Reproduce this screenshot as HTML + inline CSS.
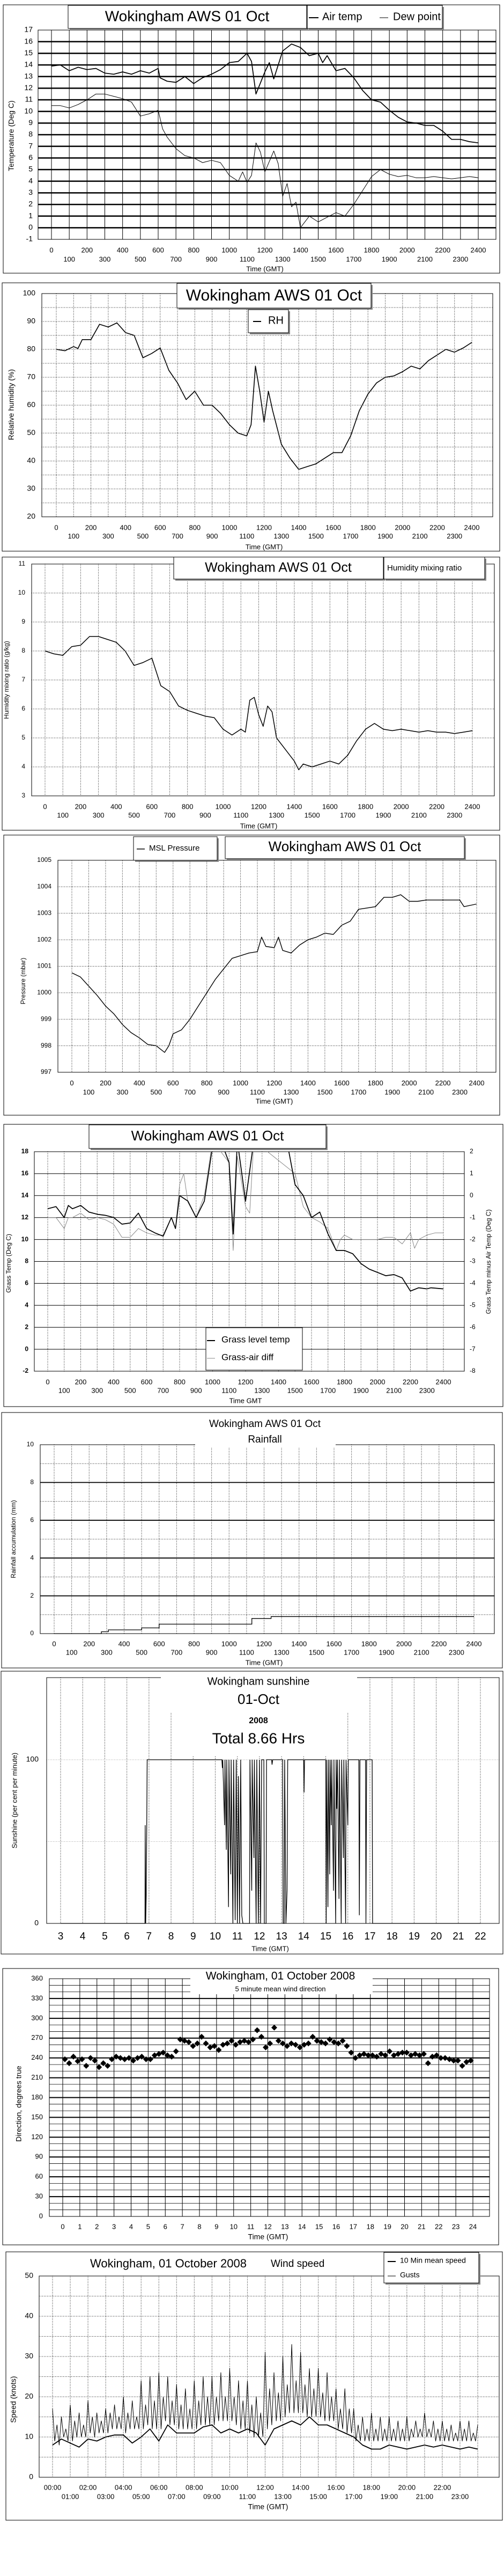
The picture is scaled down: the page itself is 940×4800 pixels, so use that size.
<!DOCTYPE html>
<html><head><meta charset="utf-8"><title>Wokingham AWS 01 Oct</title>
<style>
html,body{margin:0;padding:0;background:#fff;}
svg{display:block;}
text{font-family:"Liberation Sans",sans-serif;fill:#000;}
.n{font-family:"Liberation Sans Narrow","Liberation Sans",sans-serif;}
</style></head>
<body>
<svg id="chart" width="940" height="4800" viewBox="0 0 940 4800" xmlns="http://www.w3.org/2000/svg"></svg>
<script>
// ---------- DATA ----------
const hhmmLabelsEven=[0,200,400,600,800,1000,1200,1400,1600,1800,2000,2200,2400];
const hhmmLabelsOdd=[100,300,500,700,900,1100,1300,1500,1700,1900,2100,2300];

const airT=[0,0.5,1,1.5,2,2.5,3,3.5,4,4.5,5,5.5,6,6.1,6.5,7,7.5,8,8.5,9,9.5,10,10.5,11,11.25,11.5,12,12.25,12.5,13,13.5,14,14.5,15,15.25,15.5,16,16.5,17,17.5,18,18.5,19,19.5,20,20.5,21,21.5,22,22.5,23,23.5,24];
const airV=[13.9,14.0,13.5,13.8,13.6,13.7,13.3,13.2,13.4,13.2,13.5,13.3,13.7,12.9,12.6,12.5,13.0,12.4,12.9,13.2,13.6,14.2,14.3,15.0,14.3,11.5,13.4,14.2,12.8,15.2,15.8,15.5,14.8,15.0,14.2,14.8,13.5,13.7,12.9,11.8,11.0,10.8,10.1,9.5,9.1,9.0,8.8,8.8,8.3,7.6,7.6,7.4,7.3];
const dewT=[0,0.5,1,1.5,2,2.5,3,3.5,4,4.5,5,5.5,6,6.25,6.5,7,7.5,8,8.5,9,9.5,10,10.5,10.75,11,11.25,11.5,11.75,12,12.5,12.75,13,13.25,13.5,13.75,14,14.5,15,15.5,16,16.5,17,17.5,18,18.5,19,19.5,20,20.5,21,21.5,22,22.5,23,23.5,24];
const dewV=[10.5,10.5,10.3,10.6,11.0,11.5,11.5,11.3,11.1,10.8,9.6,9.8,10.1,8.5,7.8,6.8,6.2,6.0,5.6,5.8,5.6,4.5,4.0,4.8,3.9,4.5,7.3,6.5,4.8,6.6,5.5,2.7,3.8,1.8,2.2,0.0,1.0,0.5,0.9,1.3,1.0,2.0,3.2,4.4,5.0,4.6,4.4,4.5,4.3,4.3,4.4,4.3,4.2,4.3,4.4,4.3];
const tempTicks=[-1,0,1,2,3,4,5,6,7,8,9,10,11,12,13,14,15,16,17];

const rhT=[0,0.5,1,1.25,1.5,2,2.5,3,3.5,4,4.5,5,5.5,6,6.5,7,7.5,8,8.5,9,9.5,10,10.5,11,11.25,11.5,11.75,12,12.25,12.5,13,13.5,14,14.5,15,15.5,16,16.5,17,17.5,18,18.5,19,19.5,20,20.5,21,21.5,22,22.5,23,23.5,24];
const rhV=[80,79.5,81,80.3,83.5,83.5,89,88,89.5,86,85,77,78.5,80.5,72.5,68,62,65,60,60,57,53,50,49,53,74,65,54,65,58,46,41,37,38,39,41,43,43,49,58,64,68,70,70.5,72,74,73,76,78,80,79,80.5,82.5];
const rhTicks=[20,30,40,50,60,70,80,90,100];

const mixT=[0,0.5,1,1.5,2,2.5,3,3.5,4,4.5,5,5.5,6,6.5,7,7.5,8,8.5,9,9.5,10,10.5,11,11.25,11.5,11.75,12,12.25,12.5,12.75,13,13.5,14,14.25,14.5,15,15.5,16,16.5,17,17.5,18,18.5,19,19.5,20,20.5,21,21.5,22,22.5,23,23.5,24];
const mixV=[8.0,7.9,7.85,8.15,8.2,8.5,8.5,8.4,8.3,8.0,7.5,7.6,7.75,6.8,6.6,6.1,5.95,5.85,5.75,5.7,5.3,5.1,5.3,5.2,6.3,6.4,5.8,5.4,6.1,5.9,5.0,4.6,4.2,3.9,4.1,4.0,4.1,4.2,4.1,4.4,4.9,5.3,5.5,5.3,5.25,5.3,5.25,5.2,5.25,5.2,5.2,5.15,5.2,5.25];
const mixTicks=[3,4,5,6,7,8,9,10,11];

const presT=[0,0.5,1,1.5,2,2.5,3,3.5,4,4.5,5,5.5,5.75,6,6.5,7,7.5,8,8.5,9,9.5,10,10.5,11,11.25,11.5,12,12.25,12.5,13,13.5,14,14.5,15,15.5,16,16.5,17,17.5,18,18.5,19,19.5,20,20.5,21,21.5,22,22.5,23,23.25,24];
const presV=[1000.75,1000.6,1000.25,999.9,999.5,999.2,998.8,998.5,998.3,998.05,998.0,997.75,998.0,998.45,998.6,999.0,999.5,1000.0,1000.5,1000.9,1001.3,1001.4,1001.5,1001.55,1002.1,1001.75,1001.7,1002.1,1001.6,1001.5,1001.8,1002.0,1002.1,1002.25,1002.2,1002.55,1002.7,1003.15,1003.2,1003.25,1003.6,1003.6,1003.7,1003.45,1003.45,1003.5,1003.5,1003.5,1003.5,1003.5,1003.25,1003.35];
const presTicks=[997,998,999,1000,1001,1002,1003,1004,1005];

const grassT=[0,0.5,1,1.25,1.5,2,2.5,3,3.5,4,4.5,5,5.5,6,6.5,7,7.5,7.75,8,8.5,9,9.5,10,10.5,11,11.25,11.5,12,12.5,13,13.5,14,14.5,15,15.5,16,16.5,17,17.5,18,18.5,19,19.5,20,20.5,21,21.5,22,22.5,23,23.25,24];
const grassV=[12.8,13.0,12.0,13.1,12.8,13.1,12.5,12.3,12.2,12.0,11.4,11.5,12.4,11.0,10.6,10.3,12.0,11.0,14.0,13.5,12.0,13.5,18.5,19,17,10.5,19,13.5,19,19,19,19,19,15,14.0,12.0,12.5,10.5,9.0,9.0,8.7,7.8,7.3,7.0,6.7,6.8,6.5,5.3,5.6,5.5,5.6,5.5];
const diffT=[0,0.5,1,1.25,1.5,2,2.5,3,3.5,4,4.5,5,5.5,6,6.5,7,7.5,7.75,8,8.25,8.5,9,9.5,10,11,11.25,11.5,12,12.25,12.5,15,15.5,16,16.5,17,17.5,17.75,18,18.5,19,19.5,20,20.5,21,21.5,22,22.25,22.5,23,23.5,24];
const diffV=[-1.0,-1.0,-1.5,-1.0,-1.0,-0.8,-1.1,-1.0,-1.1,-1.3,-1.9,-1.9,-1.5,-1.7,-1.8,-1.8,-1.0,-1.5,0.5,1.0,-0.3,-1.0,0.0,2.5,1.5,-2.5,1.8,-0.5,-0.8,2.5,1.0,-0.5,-1.0,-1.2,-1.5,-2.5,-2.0,-1.8,-2.0,-2.0,-2.0,-2.0,-1.9,-1.9,-2.2,-1.7,-2.4,-2.0,-1.8,-1.7,-1.7];
const grassTicks=[-2,0,2,4,6,8,10,12,14,16,18];
const diffTicks=[-8,-7,-6,-5,-4,-3,-2,-1,0,1,2];

const rainT=[0,2.7,3.1,5.0,6.0,11.3,12.4,24];
const rainV=[0,0.1,0.2,0.3,0.5,0.8,0.9,0.9];
const rainTicks=[0,2,4,6,8,10];

const sunT=[3,6.82,6.83,6.85,6.88,6.92,10.3,10.32,10.34,10.42,10.44,10.5,10.52,10.6,10.62,10.7,10.72,10.8,10.83,10.9,10.95,11.0,11.05,11.1,11.15,11.2,11.25,11.55,11.57,11.65,11.67,11.75,11.77,11.85,11.88,11.95,12.0,12.05,12.1,12.2,12.22,12.3,12.32,12.55,12.57,12.6,13.05,13.07,13.12,13.14,13.2,13.25,13.28,14.0,14.02,14.04,15.0,15.02,15.05,15.1,15.13,15.18,15.2,15.25,15.27,15.35,15.37,15.45,15.47,15.5,15.53,15.6,15.62,15.7,15.72,15.8,15.82,15.9,15.92,16.0,16.02,16.5,16.52,16.55,16.8,16.82,16.85,17.1,17.12,22];
const sunV=[0,0,60,0,20,100,100,95,100,60,100,45,100,10,100,30,100,0,100,2,100,0,90,0,100,5,0,0,100,20,100,40,100,0,100,0,100,0,100,100,0,0,100,100,97,100,100,0,0,100,0,20,100,100,80,100,100,0,100,10,100,30,100,60,100,20,100,0,100,70,100,15,100,0,100,40,100,0,100,60,100,100,5,100,100,0,100,100,0,0];
const sunHours=[3,4,5,6,7,8,9,10,11,12,13,14,15,16,17,18,19,20,21,22];

const dirV=[238,232,242,235, 238,228,240,236, 226,232,228,238, 242,240,238,240, 236,240,242,238, 238,244,246,248, 244,242,250,268, 266,264,258,262, 272,262,256,258, 252,260,262,266, 260,264,266,264, 268,282,272,256, 262,286,266,262, 258,262,260,256, 260,262,272,266, 264,262,268,264, 262,266,258,248, 240,244,246,244, 244,242,246,244, 250,244,246,248, 248,244,246,244, 246,232,242,244, 240,240,238,236, 236,228,234,236];
const dirTicks=[0,30,60,90,120,150,180,210,240,270,300,330,360];

const meanV=[8,9.5,8.5,7.5,9.5,9,10,10.5,10.5,8.5,10,12,9,13,11,11,11,12.5,13,11,12,11,12,11,8,12,13,14,13,15,13,13,12,11,10,8,7,7,8,7.5,7,7.5,8,7.5,8,7.5,7,7.5,7];
const gustV=[
17,9,13,8,15,10,12,9,
18,9,14,10,16,10,13,10,
19,11,15,10,16,11,14,11,
17,11,16,12,18,12,15,12,
20,11,16,12,19,12,15,12,
24,12,18,13,25,12,19,12,
26,12,20,14,25,13,19,13,
23,12,18,12,22,12,17,12,
24,12,19,13,25,13,20,13,
25,13,20,14,26,14,20,14,
27,14,20,13,24,12,19,12,
24,11,18,10,20,10,16,10,
31,12,22,13,26,14,21,14,
30,15,23,16,33,16,24,16,
31,16,23,15,27,15,22,15,
27,15,21,14,26,14,20,14,
22,12,17,12,22,11,17,11,
17,9,13,9,15,9,12,9,
16,9,12,9,15,9,12,9,
15,9,12,9,14,9,12,9,
15,9,12,10,14,10,12,10,
16,10,12,10,14,9,12,9,
14,9,12,9,13,9,11,9,
14,9,12,9,14,9,11,9,13];
const speedTicks=[0,10,20,30,40,50];
const clockEven=["00:00","02:00","04:00","06:00","08:00","10:00","12:00","14:00","16:00","18:00","20:00","22:00"];
const clockOdd=["01:00","03:00","05:00","07:00","09:00","11:00","13:00","15:00","17:00","19:00","21:00","23:00"];

// ---------- HELPERS ----------
const NS='http://www.w3.org/2000/svg';
const svg=document.getElementById('chart');
function mk(tag,attrs,parent){const e=document.createElementNS(NS,tag);for(const k in attrs)e.setAttribute(k,attrs[k]);(parent||svg).appendChild(e);return e;}
function sc(a,v){return a.p0+(v-a.v0)/(a.v1-a.v0)*(a.p1-a.p0);}
function grp(name){const g=mk('g',{});


return g;}
function rect(g,x,y,w,h,name,st){const e=mk('rect',Object.assign({x:x,y:y,width:w,height:h,fill:'none',stroke:'#000','stroke-width':1},st||{}),g);


return e;}
function line(g,x1,y1,x2,y2,name,st){const e=mk('line',Object.assign({x1:x1,y1:y1,x2:x2,y2:y2,stroke:'#000','stroke-width':1},st||{}),g);


return e;}
function txt(g,x,y,s,size,anchor,name,extra){const e=mk('text',Object.assign({x:x,y:y,'font-size':size,'text-anchor':anchor||'start','dominant-baseline':'middle'},extra||{}),g);e.textContent=s;


return e;}
function boxShadow(g,x,y,w,h,name){rect(g,x+3,y+3,w,h,name+'-shadow',{fill:'#888',stroke:'none'});return rect(g,x,y,w,h,name,{fill:'#fff'});}
function series(g,X,Y,ts,vs,name,st,clip){const n=Math.min(ts.length,vs.length);let d='';for(let i=0;i<n;i++){d+=(i?'L':'M')+sc(X,ts[i]).toFixed(1)+','+sc(Y,vs[i]).toFixed(1);}
const e=mk('path',Object.assign({d:d,fill:'none',stroke:'#000','stroke-width':1,'stroke-linejoin':'round'},st||{}),g);
if(clip)e.setAttribute('clip-path','url(#'+clip+')');


return e;}
const defs=mk('defs',{});
function clipRect(id,x,y,w,h){const c=mk('clipPath',{id:id},defs);mk('rect',{x:x,y:y,width:w,height:h},c);}
function hhmmAxis(g,X,y1,y2,ttlY,ttl,cls){
  hhmmLabelsEven.forEach(v=>{txt(g,sc(X,v/100),y1,String(v),13,'middle','x-tick-label',cls?{class:cls}:{});});
  hhmmLabelsOdd.forEach(v=>{txt(g,sc(X,v/100),y2,String(v),13,'middle','x-tick-label',cls?{class:cls}:{});});
  txt(g,sc(X,12),ttlY,ttl,13,'middle','x-axis-title',cls?{class:cls}:{});
}
function vgrid(g,X,top,bot,from,to,step,name,st){for(let v=from;v<=to+1e-9;v+=step){const x=sc(X,v);line(g,x,top,x,bot,name,st);}}
function hgrid(g,Y,left,right,vals,name,st){vals.forEach(v=>{const y=sc(Y,v);line(g,left,y,right,y,name,st);});}
const DOT={'stroke-dasharray':'1,2','stroke-width':1};

// ---------- PANEL 1: temperature ----------
(function(){
const g=grp('temperature-panel');
rect(g,6,9,926,500,'panel-frame');
const X={p0:96,p1:892,v0:0,v1:24},Y={p0:446,p1:56,v0:-1,v1:17};
rect(g,71,56,854,390,'plot-area');
vgrid(g,X,56,446,0,24,1,'x-gridline');
hgrid(g,Y,71,925,[0,1,2,3,4,5,6,7,8,9,10,11,12,13,14,15,16],'y-gridline',{'stroke-width':2.5});
tempTicks.forEach(v=>txt(g,61,sc(Y,v),String(v),14,'end','y-tick-label',{class:'n'}));
txt(g,22,253,'Temperature (Deg C)',14,'middle','y-axis-title',{transform:'rotate(-90 22 253)'});
hhmmAxis(g,X,467,484,502,'Time (GMT)','n');
series(g,X,Y,dewT,dewV,'dew-point-line',{'stroke-width':1});
series(g,X,Y,airT,airV,'air-temp-line',{'stroke-width':1.7});
boxShadow(g,127,10,445,43,'title-box');
txt(g,349,32,'Wokingham AWS 01 Oct',28,'middle','chart-title',{class:'n'});
boxShadow(g,573,10,252,43,'legend');
line(g,576,33,594,33,'legend-air-temp-swatch',{'stroke-width':2});
txt(g,601,32,'Air temp',20,'start','legend-air-temp',{class:'n'});
line(g,708,33,724,33,'legend-dew-point-swatch');
txt(g,733,32,'Dew point',20,'start','legend-dew-point',{class:'n'});
})();

// ---------- PANEL 2: RH ----------
(function(){
const g=grp('humidity-panel');
rect(g,4,527,928,500,'panel-frame');
const X={p0:105,p1:880,v0:0,v1:24},Y={p0:963,p1:547,v0:20,v1:100};
vgrid(g,X,547,963,0,24,1,'x-gridline',DOT);
hgrid(g,Y,78,919,[25,30,35,40,45,50,55,60,65,70,75,80,85,90,95],'y-gridline',DOT);
rect(g,78,547,841,416,'plot-area');
rhTicks.forEach(v=>txt(g,66,sc(Y,v),String(v),14,'end','y-tick-label',{class:'n'}));
txt(g,22,754,'Relative humidity (%)',14,'middle','y-axis-title',{transform:'rotate(-90 22 754)'});
hhmmAxis(g,X,984,1000,1020,'Time (GMT)','n');
series(g,X,Y,rhT,rhV,'rh-line',{'stroke-width':1.6});
boxShadow(g,330,528,362,46,'title-box');
txt(g,511,552,'Wokingham AWS 01 Oct',30,'middle','chart-title',{class:'n'});
boxShadow(g,463,577,75,43,'legend');
line(g,472,599,487,599,'legend-rh-swatch',{'stroke-width':2});
txt(g,500,598,'RH',20,'start','legend-rh',{class:'n'});
})();

// ---------- PANEL 3: mixing ratio ----------
(function(){
const g=grp('mixing-ratio-panel');
rect(g,4,1038,928,509,'panel-frame');
const X={p0:84,p1:881,v0:0,v1:24},Y={p0:1483,p1:1051,v0:3,v1:11};
vgrid(g,X,1051,1483,0,24,1,'x-gridline',DOT);
hgrid(g,Y,59,922,[4,5,6,7,8,9,10],'y-gridline',DOT);
rect(g,59,1051,863,432,'plot-area');
mixTicks.forEach(v=>txt(g,47,sc(Y,v),String(v),12,'end','y-tick-label'));
txt(g,13,1267,'Humidity mixing ratio (g/kg)',12,'middle','y-axis-title',{transform:'rotate(-90 13 1267)'});
hhmmAxis(g,X,1504,1520,1540,'Time (GMT)');
series(g,X,Y,mixT,mixV,'mixing-ratio-line',{'stroke-width':1.5});
boxShadow(g,324,1038,391,41,'title-box');
txt(g,519,1059,'Wokingham AWS 01 Oct',25,'middle','chart-title');
boxShadow(g,716,1038,188,41,'legend');
txt(g,722,1059,'Humidity mixing ratio',15,'start','legend-mixing-ratio');
})();

// ---------- PANEL 4: pressure ----------
(function(){
const g=grp('pressure-panel');
rect(g,7,1556,925,522,'panel-frame');
const X={p0:134,p1:889,v0:0,v1:24},Y={p0:1998,p1:1603,v0:997,v1:1005};
vgrid(g,X,1603,1998,0,24,1,'x-gridline',DOT);
hgrid(g,Y,108,925,[998,999,1000,1001,1002,1003,1004],'y-gridline',DOT);
rect(g,108,1603,817,395,'plot-area');
presTicks.forEach(v=>txt(g,96,sc(Y,v),String(v),12,'end','y-tick-label'));
txt(g,44,1828,'Pressure (mbar)',12,'middle','y-axis-title',{transform:'rotate(-90 44 1828)'});
hhmmAxis(g,X,2019,2036,2053,'Time (GMT)');
series(g,X,Y,presT,presV,'pressure-line',{'stroke-width':1.4});
boxShadow(g,249,1559,156,44,'legend');
line(g,255,1582,270,1582,'legend-pressure-swatch',{'stroke-width':1.5});
txt(g,278,1581,'MSL Pressure',15,'start','legend-pressure');
boxShadow(g,420,1559,446,41,'title-box');
txt(g,643,1579,'Wokingham AWS 01 Oct',26,'middle','chart-title');
})();

// ---------- PANEL 5: grass temp ----------
(function(){
const g=grp('grass-temp-panel');
rect(g,7,2095,931,526,'panel-frame');
const X={p0:89,p1:827,v0:0,v1:24},Y={p0:2555,p1:2146,v0:-2,v1:18},Y2={p0:2555,p1:2146,v0:-8,v1:2};
clipRect('clip5',64,2146,802,409);
vgrid(g,X,2146,2555,0,24,1,'x-gridline',DOT);
hgrid(g,Y,64,866,[0,2,4,6,8,10,12,14,16],'y-gridline');
rect(g,64,2146,802,409,'plot-area');
grassTicks.forEach(v=>txt(g,53,sc(Y,v),String(v),12,'end','y-tick-label',{'font-weight':'bold'}));
diffTicks.forEach(v=>txt(g,876,sc(Y2,v),String(v),12,'start','y2-tick-label'));
txt(g,17,2354,'Grass Temp (Deg C)',12,'middle','y-axis-title',{transform:'rotate(-90 17 2354)'});
txt(g,912,2351,'Grass Temp minus Air Temp (Deg C)',12,'middle','y2-axis-title',{transform:'rotate(-90 912 2351)'});
hhmmAxis(g,X,2576,2592,2611,'Time GMT');
series(g,X,Y2,diffT,diffV,'grass-air-diff-line',{stroke:'#888','stroke-width':1},'clip5');
series(g,X,Y,grassT,grassV,'grass-temp-line',{'stroke-width':1.7},'clip5');
boxShadow(g,166,2096,442,44,'title-box');
txt(g,387,2118,'Wokingham AWS 01 Oct',26,'middle','chart-title');
rect(g,384,2474,180,79,'legend',{fill:'#fff'});
line(g,386,2498,401,2498,'legend-grass-swatch',{'stroke-width':2});
txt(g,413,2497,'Grass level temp',17,'start','legend-grass-temp');
line(g,386,2531,401,2531,'legend-diff-swatch',{stroke:'#888'});
txt(g,413,2530,'Grass-air diff',17,'start','legend-grass-air-diff');
})();

// ---------- PANEL 6: rainfall ----------
(function(){
const g=grp('rainfall-panel');
rect(g,3,2632,934,476,'panel-frame');
const X={p0:101,p1:884,v0:0,v1:24},Y={p0:3044,p1:2692,v0:0,v1:10};
vgrid(g,X,2692,3044,0,24,1,'x-gridline',DOT);
hgrid(g,Y,75,922,[1,3,5,7,9],'minor-y-gridline',DOT);
hgrid(g,Y,75,922,[2,4,6,8],'y-gridline',{'stroke-width':1.8});
rect(g,75,2692,847,352,'plot-area');
rect(g,364,2686,262,12,'title-mask',{fill:'#fff',stroke:'none'});
rainTicks.forEach(v=>txt(g,63,sc(Y,v),String(v),12,'end','y-tick-label'));
txt(g,26,2868,'Rainfall accumulation (mm)',12,'middle','y-axis-title',{transform:'rotate(-90 26 2868)'});
hhmmAxis(g,X,3064,3080,3099,'Time (GMT)');
let d='';for(let i=0;i<Math.min(rainT.length,rainV.length);i++){const x=sc(X,rainT[i]).toFixed(1),y=sc(Y,rainV[i]).toFixed(1);if(i===0)d+='M'+x+','+y;else{d+='H'+x+'V'+y;}}
const rl=mk('path',{d:d,fill:'none',stroke:'#000','stroke-width':1.3},g);


txt(g,494,2654,'Wokingham AWS 01 Oct',19,'middle','chart-title');
txt(g,494,2683,'Rainfall',19,'middle','chart-subtitle');
})();

// ---------- PANEL 7: sunshine ----------
(function(){
const g=grp('sunshine-panel');
rect(g,2,3114,936,527,'panel-frame');
const X={p0:113,p1:896,v0:3,v1:22},Y={p0:3584,p1:3279,v0:0,v1:100};
sunHours.forEach(h=>{const x=sc(X,h);line(g,x,3126,x,3584,'x-gridline',DOT);});
hgrid(g,Y,87,931,[50,100],'y-gridline',{stroke:'#999','stroke-dasharray':'1,2'});
rect(g,87,3126,844,458,'plot-area');
rect(g,300,3121,366,69,'title-mask',{fill:'#fff',stroke:'none'});
rect(g,340,3190,290,81,'title-mask',{fill:'#fff',stroke:'none'});
txt(g,72,sc(Y,100),'100',14,'end','y-tick-label');
txt(g,72,sc(Y,0),'0',14,'end','y-tick-label');
txt(g,28,3355,'Sunshine (per cent per minute)',13,'middle','y-axis-title',{transform:'rotate(-90 28 3355)'});
sunHours.forEach(h=>txt(g,sc(X,h),3609,String(h),19,'middle','x-tick-label'));
txt(g,504,3632,'Time (GMT)',13,'middle','x-axis-title');
series(g,X,Y,sunT,sunV,'sunshine-line',{'stroke-width':1.3,'stroke-linejoin':'miter'});
txt(g,482,3134,'Wokingham sunshine',20,'middle','chart-title');
txt(g,482,3168,'01-Oct',26,'middle','chart-date');
txt(g,482,3207,'2008',16,'middle','chart-year',{'font-weight':'bold'});
txt(g,482,3241,'Total 8.66 Hrs',28,'middle','chart-total');
})();

// ---------- PANEL 8: wind direction ----------
(function(){
const g=grp('wind-direction-panel');
rect(g,5,3668,925,515,'panel-frame');
const X={p0:117,p1:882,v0:0,v1:24},Y={p0:4130,p1:3687,v0:0,v1:360};
const thin=[];for(let v=10;v<360;v+=10)if(v%30)thin.push(v);
hgrid(g,Y,92,913,thin,'minor-y-gridline',{'stroke-width':0.8});
hgrid(g,Y,92,913,[30,60,90,120,150,180,210,240,270,300,330],'y-gridline',{'stroke-width':2});
vgrid(g,X,3687,4130,0,24,1,'x-gridline');
rect(g,92,3687,821,443,'plot-area');
rect(g,355,3675,340,41,'title-mask',{fill:'#fff',stroke:'none'});
dirTicks.forEach(v=>txt(g,80,sc(Y,v),String(v),13,'end','y-tick-label',{class:'n'}));
txt(g,36,3920,'Direction, degrees true',14,'middle','y-axis-title',{transform:'rotate(-90 36 3920)'});
for(let h=0;h<=24;h++)txt(g,sc(X,h),4150,String(h),13,'middle','x-tick-label',{class:'n'});
txt(g,500,4169,'Time (GMT)',14,'middle','x-axis-title',{class:'n'});
dirV.forEach((v,i)=>{const x=sc(X,i*0.25+0.125),y=sc(Y,v);
const p=mk('path',{d:'M'+x.toFixed(1)+','+(y-5.5).toFixed(1)+'l5.5,5.5l-5.5,5.5l-5.5,-5.5z',fill:'#000'},g);

});
txt(g,523,3683,'Wokingham,  01 October 2008',21,'middle','chart-title',{class:'n'});
txt(g,523,3707,'5 minute mean wind direction',13,'middle','chart-subtitle',{class:'n'});
})();

// ---------- PANEL 9: wind speed ----------
(function(){
const g=grp('wind-speed-panel');
rect(g,11,4196,926,500,'panel-frame');
const X={p0:98,p1:891,v0:0,v1:24},Y={p0:4616,p1:4241,v0:0,v1:50};
vgrid(g,X,4241,4616,0,24,1,'x-gridline',DOT);
hgrid(g,Y,73,931,[5,10,15,20,25,30,35,40,45],'y-gridline',DOT);
rect(g,73,4241,858,375,'plot-area');
speedTicks.forEach(v=>txt(g,62,sc(Y,v),String(v),14,'end','y-tick-label',{class:'n'}));
txt(g,26,4471,'Speed (knots)',14,'middle','y-axis-title',{transform:'rotate(-90 26 4471)'});
clockEven.forEach((s,i)=>txt(g,sc(X,i*2),4636,s,13,'middle','x-tick-label',{class:'n'}));
clockOdd.forEach((s,i)=>txt(g,sc(X,i*2+1),4653,s,13,'middle','x-tick-label',{class:'n'}));
txt(g,500,4672,'Time (GMT)',14,'middle','x-axis-title',{class:'n'});
const gT=gustV.map((v,i)=>i*0.125);
const mT=meanV.map((v,i)=>i*0.5);
series(g,X,Y,gT,gustV,'gusts-line',{'stroke-width':1});
series(g,X,Y,mT,meanV,'mean-speed-line',{'stroke-width':1.8});
txt(g,314,4219,'Wokingham,  01 October 2008',22,'middle','chart-title',{class:'n'});
txt(g,505,4219,'Wind speed',19,'start','chart-subtitle',{class:'n'});
boxShadow(g,716,4197,177,57,'legend');
line(g,723,4214,738,4214,'legend-mean-swatch',{'stroke-width':2});
txt(g,746,4213,'10 Min mean speed',14,'start','legend-mean-speed',{class:'n'});
line(g,723,4241,738,4241,'legend-gust-swatch');
txt(g,746,4240,'Gusts',14,'start','legend-gusts',{class:'n'});
})();
</script>
</body></html>
